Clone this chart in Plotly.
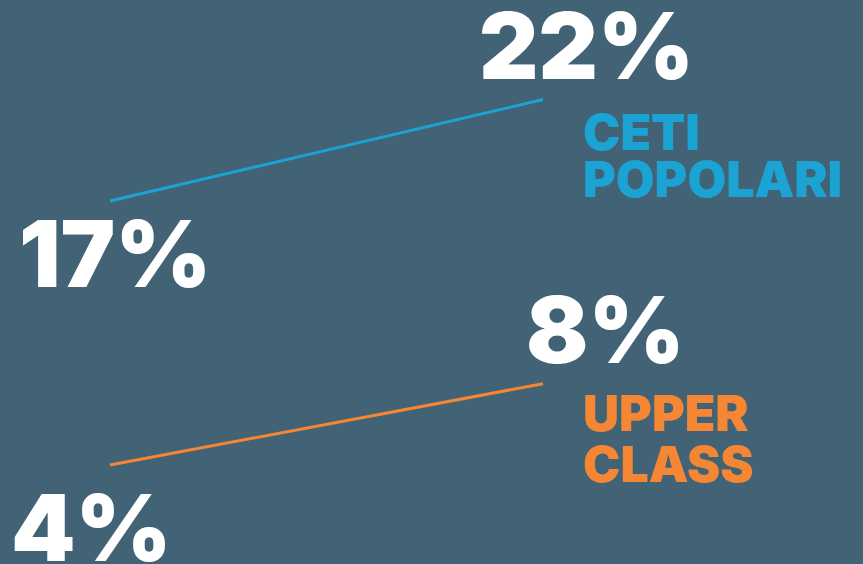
import plotly.graph_objects as go

# two time points, two social groups (share in %)
periods = ["before", "after"]
ceti_popolari = [17, 22]
upper_class = [4, 8]
series_lines = [["CETI", "POPOLARI"], ["UPPER", "CLASS"]]

BG = "#416375"
BLUE = "#1ba3d4"
ORANGE = "#f58634"
FONT = "Arial Black, Inter, sans-serif"

fig = go.Figure()
for vals, col in [(ceti_popolari, BLUE), (upper_class, ORANGE)]:
    fig.add_trace(go.Scatter(
        x=[0, 1], y=vals, mode="lines",
        line=dict(color=col, width=3),
        hoverinfo="skip", showlegend=False,
    ))

annotations = []
# value labels: start below, end above
start_shift = [(5, -53), (-18, -63)]
end_shift = [(43, 54), (62, 54)]
for i, vals in enumerate([ceti_popolari, upper_class]):
    annotations.append(dict(
        x=0, y=vals[0], text=f"{vals[0]}%", showarrow=False,
        xanchor="center", yanchor="middle",
        xshift=start_shift[i][0], yshift=start_shift[i][1],
        font=dict(family=FONT, size=92, color="white", weight=900),
    ))
    annotations.append(dict(
        x=1, y=vals[1], text=f"{vals[1]}%", showarrow=False,
        xanchor="center", yanchor="middle",
        xshift=end_shift[i][0], yshift=end_shift[i][1],
        font=dict(family=FONT, size=92, color="white", weight=900),
    ))

# series names, one annotation per line to keep tight line spacing
line_shifts = [[-33, -80], [-29, -80]]
for vals, lines, col, shifts in [(ceti_popolari, series_lines[0], BLUE, line_shifts[0]),
                                 (upper_class, series_lines[1], ORANGE, line_shifts[1])]:
    for txt, ys in zip(lines, shifts):
        annotations.append(dict(
            x=1, y=vals[1], text=txt, showarrow=False,
            xanchor="left", yanchor="middle", align="left",
            xshift=38, yshift=ys,
            font=dict(family=FONT, size=50, color=col, weight=900),
        ))

fig.update_layout(
    width=863, height=564,
    margin=dict(l=0, r=0, t=0, b=0),
    paper_bgcolor=BG, plot_bgcolor=BG,
    xaxis=dict(range=[-0.254, 1.739], visible=False),
    yaxis=dict(range=[-0.88, 26.9], visible=False),
    annotations=annotations,
)

fig.write_html("out.html", config={"displayModeBar": False},
               post_script="document.body.style.margin='0';")
